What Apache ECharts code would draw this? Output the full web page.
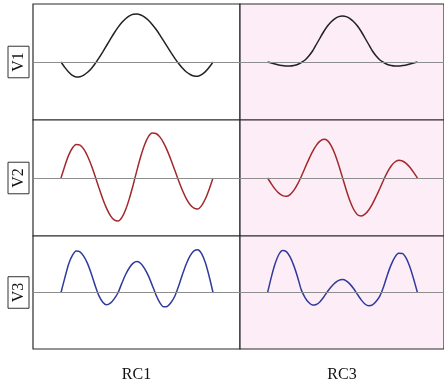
<!DOCTYPE html>
<html>
<head>
<meta charset="utf-8">
<script src="https://cdn.jsdelivr.net/npm/echarts@6/dist/echarts.min.js"></script>
<style>
  html, body { margin: 0; padding: 0; background: #fff; }
  #chart { width: 444px; height: 384px; }
</style>
</head>
<body>
<div id="chart"></div>
<script>
// sample positions along each trace (0..1)
const tFine = [0, 0.025, 0.05, 0.075, 0.1, 0.125, 0.15, 0.175, 0.2, 0.225, 0.25,
  0.275, 0.3, 0.325, 0.35, 0.375, 0.4, 0.425, 0.45, 0.475, 0.5,
  0.525, 0.55, 0.575, 0.6, 0.625, 0.65, 0.675, 0.7, 0.725, 0.75,
  0.775, 0.8, 0.825, 0.85, 0.875, 0.9, 0.925, 0.95, 0.975, 1]

const columns = ['RC1', 'RC3']
const rows = ['V1', 'V2', 'V3']

const v1rc1 = [0, -5.4, -10, -13.4, -15, -14.7, -13.1, -10.3, -6.4, -1.5, 4.1,
  10.2, 16.5, 22.9, 29, 34.6, 39.4, 43.3, 46.1, 47.7, 48,
  47, 44.9, 41.8, 37.6, 32.7, 27.2, 21.2, 15.1, 9.1, 3.4,
  -1.8, -6.3, -10, -12.5, -14, -14.3, -12.7, -9.6, -5.2, 0]
const v1rc3 = [0, -1, -2, -3, -3.5, -4, -4, -3.5, -2.5, -0.5, 2,
  6, 11, 17.5, 24, 30.5, 36, 40.3, 43.4, 45.4, 46,
  45.4, 43.4, 40.3, 36, 30.5, 24, 17.5, 11, 6, 2,
  -0.5, -2.5, -3.5, -4, -4, -3.5, -3, -2, -1, 0]
const v2rc1 = [0, 12.1, 22.6, 30, 33.6, 32.8, 28.8, 21.7, 12.4, 1.5, -10,
  -20.9, -30.4, -37.6, -41.9, -43, -39.6, -31.8, -20.4, -6.7, 7.9,
  21.7, 33.2, 41.4, 44.9, 44.5, 41.1, 35.2, 27.1, 17.5, 7.2,
  -3.2, -12.8, -20.9, -26.8, -30.2, -31, -27.6, -20.8, -11.2, 0]
const v2rc3 = [0, -5.8, -11.1, -15.1, -17.6, -18.3, -16.6, -12.4, -6.2, 1.5, 10.2,
  18.6, 26.3, 32.6, 36.8, 38.7, 37.4, 32.2, 23.7, 12.7, 0.4,
  -12, -23, -31.5, -36.7, -37.9, -36.2, -32, -25.9, -18.3, -10.3,
  -1.7, 5.9, 12, 16, 17.7, 17, 14.6, 10.7, 5.6, 0]
const v3rc1 = [0, 15, 29, 38, 42.5, 41.7, 37, 29.6, 19, 7, -3.5,
  -9.9, -12.7, -11, -6.6, -0.3, 9.4, 18.5, 25.4, 30.1, 31.7,
  29.8, 24.6, 17.1, 7.5, -2.5, -10.3, -14.7, -14.2, -10, -3.3,
  7.1, 19, 29.6, 37.8, 42.7, 44, 40, 30.5, 16.4, 0]
const v3rc3 = [0, 15.8, 29.4, 39, 43.2, 42, 36.6, 27.6, 16, 2.7, -5.2,
  -10.3, -12.9, -12.3, -9.4, -4.6, 1, 5.9, 9.9, 12.5, 13.3,
  12, 8.6, 3.8, -2, -7.6, -11.8, -13.6, -12.7, -9, -3.4,
  6.1, 18.3, 28.6, 36.3, 40.2, 40.1, 35.3, 26.3, 13.9, 0]

const traces = [
  [v1rc1, v1rc3],
  [v2rc1, v2rc3],
  [v3rc1, v3rc3],
]
const rowColors = ['#222222', '#a3282c', '#2f3a9c']

const grids = [], xAxes = [], yAxes = [], series = []
rows.forEach((rowName, r) => {
  columns.forEach((colName, c) => {
    const idx = grids.length
    grids.push({
      left: 33 + c * 207,
      top: 4 + r * 116,
      width: 207,
      height: 116,
      show: true,
      borderColor: '#2a2a2a',
      borderWidth: 1.2,
      backgroundColor: c === 1 ? '#fdedf7' : '#ffffff',
    })
    xAxes.push({
      gridIndex: idx,
      type: 'value',
      min: -0.1842,
      max: 1.1776,
      axisLine: { show: false },
      axisTick: { show: false },
      axisLabel: { show: false },
      splitLine: { show: false },
      name: r === rows.length - 1 ? colName : '',
      nameLocation: 'middle',
      nameGap: 18,
      nameTextStyle: { fontFamily: 'Liberation Serif', fontSize: 16, color: '#111' },
    })
    yAxes.push({
      gridIndex: idx,
      type: 'value',
      min: -58,
      max: 58,
      axisLine: { show: false },
      axisTick: { show: false },
      axisLabel: { show: false },
      splitLine: { show: false },
      name: c === 0 ? rowName : '',
      nameLocation: 'middle',
      nameRotate: 90,
      nameGap: 4,
      nameTextStyle: {
        fontFamily: 'Liberation Serif', fontSize: 16, lineHeight: 17, color: '#111',
        borderColor: '#333', borderWidth: 1, padding: [2, 6, 2, 6],
      },
    })
    const ys = traces[r][c]
    series.push({
      type: 'line',
      xAxisIndex: idx,
      yAxisIndex: idx,
      data: tFine.map((x, i) => [x, ys[i]]),
      smooth: 0.2,
      showSymbol: false,
      lineStyle: { color: rowColors[r], width: 1.5 },
      silent: true,
      markLine: {
        silent: true,
        symbol: 'none',
        label: { show: false },
        lineStyle: { color: '#8e8e8e', type: 'solid', width: 1 },
        data: [{ yAxis: 0 }],
      },
      z: 3,
    })
  })
})

const chart = echarts.init(document.getElementById('chart'))
chart.setOption({
  animation: false,
  backgroundColor: '#ffffff',
  grid: grids,
  xAxis: xAxes,
  yAxis: yAxes,
  series: series,
})
</script>
</body>
</html>
